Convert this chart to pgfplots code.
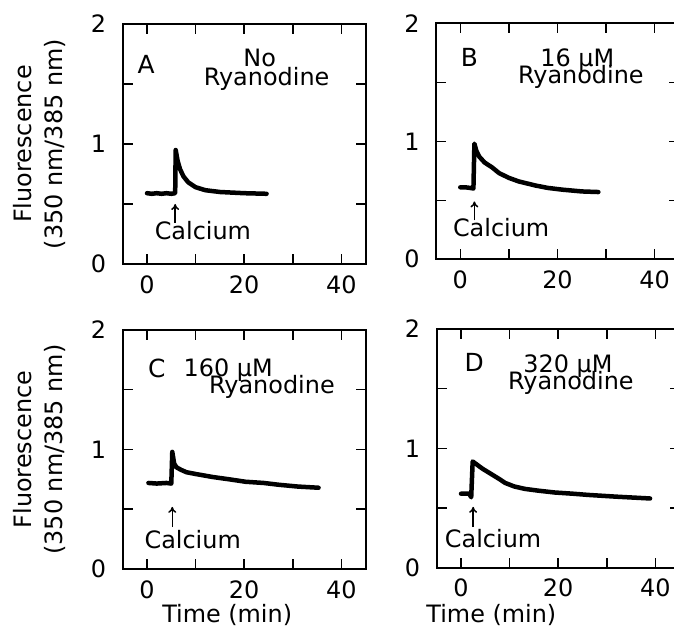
\documentclass[border=0pt]{standalone}
\usepackage{fontspec}
\setmainfont{DejaVu Sans}
\usepackage{pgfplots}
\pgfplotsset{compat=1.18}
\usetikzlibrary{arrows.meta}

\newcommand{\bigf}{\fontsize{24}{28}\selectfont}
\pgfplotsset{
 panel/.style={
   scale only axis, width=243bp, anchor=south west,
   xmin=-5, xmax=45, ymin=0, ymax=2,
   xtick={0,10,20,30,40}, xticklabels={0,,20,,40},
   ytick={0,0.5,1,1.5,2}, yticklabels={0,,1,,2},
   tick align=inside, major tick length=10bp,
   axis line style={line width=1.8bp},
   every tick/.style={black, line width=1.5bp},
   tick label style={font=\bigf},
   yticklabel style={xshift=-13bp},
   xticklabel style={yshift=-8bp},
   /pgf/number format/assume math mode=true,
   label style={font=\fontsize{24}{31}\selectfont},
   ylabel style={at={(axis description cs:-0.22,0.5)}, anchor=south, align=center},
   clip=false,
 },
 trace/.style={black, line width=4.5bp, line join=round, line cap=round},
}
\tikzset{txt/.style={anchor=base, font=\bigf, inner sep=0pt},
  ca/.style={-{To[length=6bp,width=8bp]}, line width=1.5bp}}

\pgfplotstableread{
x y
0 0.59
1 0.585
2 0.59
3 0.585
4 0.59
5 0.585
5.8 0.59
5.9 0.95
6.3 0.86
6.8 0.79
7.5 0.73
8.5 0.68
10 0.64
12 0.615
15 0.60
20 0.59
24.6 0.585
}\dataA
\pgfplotstableread{
x y
0 0.61
1 0.61
2 0.605
2.7 0.60
2.9 0.98
3.3 0.92
3.9 0.87
5 0.82
6.5 0.78
8 0.73
10 0.69
12 0.66
15.5 0.625
18 0.605
21 0.59
25 0.575
28.4 0.57
}\dataB
\pgfplotstableread{
x y
0.3 0.72
2 0.715
4 0.72
5 0.715
5.2 0.98
5.6 0.88
6.1 0.85
7 0.83
8.1 0.81
10 0.795
13.5 0.77
17 0.75
20.3 0.73
24 0.72
27.1 0.705
31 0.69
35.3 0.68
}\dataC
\pgfplotstableread{
x y
0 0.62
1.7 0.62
2.1 0.59
2.4 0.89
3.4 0.86
4.4 0.83
6.4 0.78
8 0.74
9.1 0.71
11 0.68
13.2 0.66
16 0.645
19.3 0.63
23 0.62
26.1 0.61
32 0.595
38.9 0.58
}\dataD

\begin{document}
\begin{tikzpicture}
% Panel A
\begin{axis}[panel, at={(122.7bp,372bp)}, height=240bp,
  ylabel={Fluorescence\\(350 nm/385 nm)}]
\addplot[trace] table[x=x,y=y] {\dataA};
\node[txt, font=\fontsize{25}{28}\selectfont] at (axis cs:-0.2,1.59) {A};
\node[txt] at (axis cs:23.2,1.645) {No};
\node[txt] at (axis cs:24.6,1.49) {Ryanodine};
\draw[ca] (axis cs:5.8,0.34) -- (axis cs:5.8,0.50);
\node[txt] at (axis cs:11.5,0.2) {Calcium};
\end{axis}
% Panel B
\begin{axis}[panel, at={(436bp,376.7bp)}, height=236bp]
\addplot[trace] table[x=x,y=y] {\dataB};
\node[txt, font=\fontsize{25}{28}\selectfont] at (axis cs:1.9,1.63) {B};
\node[txt] at (axis cs:24.1,1.635) {16 µM};
\node[txt] at (axis cs:24.8,1.49) {Ryanodine};
\draw[ca] (axis cs:2.9,0.33) -- (axis cs:2.9,0.49);
\node[txt] at (axis cs:8.4,0.19) {Calcium};
\end{axis}
% Panel C
\begin{axis}[panel, at={(122.7bp,67bp)}, height=239bp,
  ylabel={Fluorescence\\(350 nm/385 nm)},
  xlabel={Time (min)},
  xlabel style={at={(axis description cs:0.43,-0.222)}, anchor=base}]
\addplot[trace] table[x=x,y=y] {\dataC};
\node[txt, font=\fontsize{25}{28}\selectfont] at (axis cs:2.0,1.6) {C};
\node[txt] at (axis cs:16.7,1.615) {160 µM};
\node[txt] at (axis cs:25.7,1.47) {Ryanodine};
\draw[ca] (axis cs:5.2,0.35) -- (axis cs:5.2,0.52);
\node[txt] at (axis cs:9.4,0.175) {Calcium};
\end{axis}
% Panel D
\begin{axis}[panel, at={(436.7bp,68.3bp)}, height=238.7bp,
  xlabel={Time (min)},
  xlabel style={at={(axis description cs:0.225,-0.23)}, anchor=base}]
\addplot[trace] table[x=x,y=y] {\dataD};
\node[txt, font=\fontsize{25}{28}\selectfont] at (axis cs:2.7,1.64) {D};
\node[txt] at (axis cs:22.0,1.635) {320 µM};
\node[txt] at (axis cs:22.6,1.49) {Ryanodine};
\draw[ca] (axis cs:2.5,0.34) -- (axis cs:2.5,0.51);
\node[txt] at (axis cs:6.6,0.17) {Calcium};
\end{axis}
\pgfresetboundingbox
\path[use as bounding box] (0bp,0bp) rectangle (674bp,636bp);
\end{tikzpicture}
\end{document}
